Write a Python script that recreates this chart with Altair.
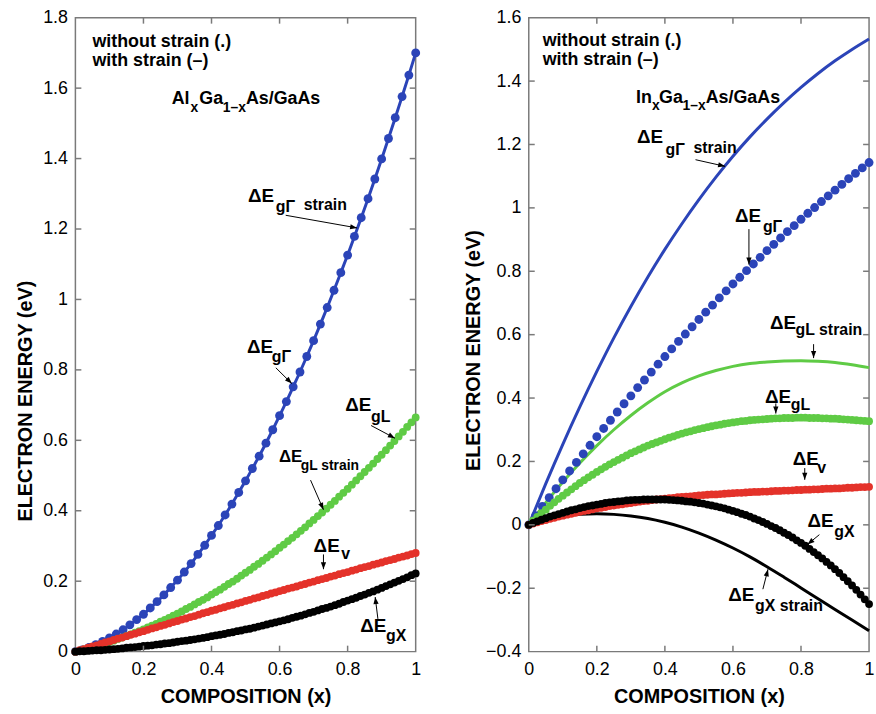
import math
import altair as alt
import pandas as pd

# ---------------------------------------------------------------- data
# composition grids
X_COARSE = [round(0.02 * i, 4) for i in range(51)]
X_FINE = [round(0.0125 * i, 4) for i in range(81)]
X_LINE = [round(0.05 * i, 2) for i in range(21)]

X_TICKS = [0, 0.2, 0.4, 0.6, 0.8, 1]
Y_TICKS_AL = [0, 0.2, 0.4, 0.6, 0.8, 1, 1.2, 1.4, 1.6, 1.8]
Y_TICKS_IN = [-0.4, -0.2, 0, 0.2, 0.4, 0.6, 0.8, 1, 1.2, 1.4, 1.6]

# AlxGa1-xAs / GaAs  (strained and unstrained curves coincide)
AL_GAMMA = [0, 0.005, 0.012, 0.020, 0.029, 0.039, 0.050, 0.062, 0.076, 0.091,
            0.106, 0.124, 0.142, 0.161, 0.182, 0.203, 0.226, 0.250, 0.276, 0.302,
            0.330, 0.358, 0.388, 0.419, 0.452, 0.485, 0.520, 0.555, 0.592, 0.630,
            0.670, 0.710, 0.752, 0.794, 0.838, 0.883, 0.930, 0.977, 1.026, 1.076,
            1.126, 1.179, 1.232, 1.286, 1.342, 1.399, 1.457, 1.516, 1.576, 1.637,
            1.700]
AL_L = [0, 0.003, 0.006, 0.009, 0.013, 0.016, 0.020, 0.023, 0.027, 0.031, 0.036,
        0.040, 0.044, 0.049, 0.054, 0.058, 0.063, 0.069, 0.074, 0.079, 0.085,
        0.090, 0.096, 0.102, 0.108, 0.114, 0.121, 0.127, 0.134, 0.141, 0.147,
        0.154, 0.162, 0.169, 0.176, 0.184, 0.192, 0.199, 0.207, 0.216, 0.224,
        0.232, 0.241, 0.249, 0.258, 0.267, 0.276, 0.285, 0.295, 0.304, 0.314,
        0.323, 0.333, 0.343, 0.353, 0.364, 0.374, 0.385, 0.395, 0.406, 0.417,
        0.428, 0.440, 0.451, 0.462, 0.474, 0.486, 0.498, 0.510, 0.522, 0.534,
        0.547, 0.559, 0.572, 0.585, 0.598, 0.611, 0.624, 0.638, 0.651, 0.665]
AL_V = [0, 0.004, 0.007, 0.011, 0.015, 0.018, 0.022, 0.026, 0.029, 0.033, 0.037,
        0.040, 0.044, 0.048, 0.051, 0.055, 0.058, 0.062, 0.066, 0.069, 0.073,
        0.076, 0.080, 0.084, 0.087, 0.091, 0.094, 0.098, 0.101, 0.105, 0.109,
        0.112, 0.116, 0.119, 0.123, 0.126, 0.130, 0.133, 0.137, 0.140, 0.144,
        0.147, 0.151, 0.154, 0.158, 0.161, 0.165, 0.168, 0.172, 0.175, 0.179,
        0.182, 0.185, 0.189, 0.192, 0.196, 0.199, 0.203, 0.206, 0.209, 0.213,
        0.216, 0.220, 0.223, 0.226, 0.230, 0.233, 0.237, 0.240, 0.243, 0.247,
        0.250, 0.253, 0.257, 0.260, 0.263, 0.267, 0.270, 0.273, 0.277, 0.280]
AL_X = [0, 0.001, 0.001, 0.002, 0.003, 0.004, 0.004, 0.005, 0.006, 0.007, 0.008,
        0.009, 0.011, 0.012, 0.013, 0.014, 0.016, 0.017, 0.018, 0.020, 0.021,
        0.023, 0.024, 0.026, 0.028, 0.030, 0.031, 0.033, 0.035, 0.037, 0.039,
        0.041, 0.044, 0.046, 0.048, 0.050, 0.053, 0.055, 0.058, 0.060, 0.063,
        0.065, 0.068, 0.071, 0.074, 0.077, 0.080, 0.083, 0.086, 0.089, 0.092,
        0.096, 0.099, 0.102, 0.106, 0.110, 0.113, 0.117, 0.121, 0.124, 0.128,
        0.132, 0.136, 0.141, 0.145, 0.149, 0.153, 0.158, 0.162, 0.167, 0.171,
        0.176, 0.181, 0.186, 0.191, 0.196, 0.201, 0.206, 0.211, 0.217, 0.222]

# InxGa1-xAs / GaAs, without strain (dots)
IN_GAMMA = [0, 0.029, 0.058, 0.086, 0.114, 0.142, 0.170, 0.197, 0.224, 0.251,
            0.278, 0.304, 0.330, 0.356, 0.382, 0.407, 0.433, 0.457, 0.482, 0.507,
            0.531, 0.555, 0.579, 0.602, 0.625, 0.648, 0.671, 0.693, 0.716, 0.738,
            0.760, 0.781, 0.802, 0.823, 0.844, 0.865, 0.885, 0.905, 0.925, 0.944,
            0.964, 0.983, 1.001, 1.020, 1.038, 1.056, 1.074, 1.092, 1.109, 1.126,
            1.143]
IN_L = [0, 0.013, 0.025, 0.037, 0.048, 0.060, 0.071, 0.082, 0.092, 0.102, 0.112,
        0.122, 0.132, 0.141, 0.150, 0.158, 0.167, 0.175, 0.183, 0.191, 0.198,
        0.205, 0.212, 0.219, 0.226, 0.232, 0.238, 0.244, 0.250, 0.255, 0.260,
        0.265, 0.270, 0.275, 0.279, 0.284, 0.288, 0.292, 0.295, 0.299, 0.302,
        0.305, 0.308, 0.311, 0.314, 0.316, 0.319, 0.321, 0.323, 0.325, 0.327,
        0.328, 0.330, 0.331, 0.332, 0.333, 0.334, 0.335, 0.336, 0.336, 0.337,
        0.337, 0.337, 0.338, 0.338, 0.338, 0.337, 0.337, 0.337, 0.336, 0.336,
        0.335, 0.335, 0.334, 0.333, 0.332, 0.331, 0.330, 0.329, 0.328, 0.327]
IN_V = [0, 0.004, 0.008, 0.012, 0.015, 0.019, 0.022, 0.026, 0.029, 0.032, 0.035,
        0.038, 0.041, 0.044, 0.046, 0.049, 0.052, 0.054, 0.056, 0.059, 0.061,
        0.063, 0.065, 0.067, 0.069, 0.071, 0.073, 0.075, 0.076, 0.078, 0.080,
        0.081, 0.083, 0.084, 0.085, 0.087, 0.088, 0.089, 0.090, 0.091, 0.093,
        0.094, 0.095, 0.096, 0.096, 0.097, 0.098, 0.099, 0.100, 0.101, 0.101,
        0.102, 0.103, 0.104, 0.104, 0.105, 0.105, 0.106, 0.107, 0.107, 0.108,
        0.108, 0.109, 0.110, 0.110, 0.111, 0.111, 0.112, 0.112, 0.113, 0.114,
        0.114, 0.115, 0.115, 0.116, 0.117, 0.117, 0.118, 0.119, 0.119, 0.120]
IN_X = [0, 0.006, 0.011, 0.016, 0.021, 0.026, 0.030, 0.034, 0.038, 0.042, 0.046,
        0.049, 0.053, 0.056, 0.059, 0.061, 0.064, 0.066, 0.069, 0.071, 0.072,
        0.074, 0.075, 0.077, 0.078, 0.079, 0.079, 0.080, 0.080, 0.080, 0.080,
        0.080, 0.080, 0.079, 0.078, 0.077, 0.076, 0.074, 0.073, 0.071, 0.069,
        0.067, 0.064, 0.061, 0.058, 0.055, 0.052, 0.048, 0.044, 0.040, 0.035,
        0.031, 0.026, 0.020, 0.015, 0.009, 0.003, -0.004, -0.010, -0.017, -0.025,
        -0.032, -0.040, -0.049, -0.057, -0.066, -0.076, -0.086, -0.096, -0.106, -0.117,
        -0.128, -0.140, -0.152, -0.165, -0.178, -0.191, -0.205, -0.220, -0.235, -0.250]

# InxGa1-xAs / GaAs, with strain (lines)
IN_GAMMA_STRAIN = [0, 0.13, 0.254, 0.372, 0.484, 0.59, 0.689, 0.782, 0.869, 0.95,
                   1.026, 1.097, 1.163, 1.224, 1.28, 1.332, 1.38, 1.424, 1.464, 1.50, 1.533]
IN_L_STRAIN = [0, 0.07, 0.135, 0.195, 0.25, 0.30, 0.345, 0.385, 0.42, 0.448,
               0.47, 0.487, 0.50, 0.509, 0.514, 0.517, 0.518, 0.516, 0.512, 0.505, 0.496]
IN_X_STRAIN = [0, 0.016, 0.027, 0.033, 0.035, 0.033, 0.028, 0.020, 0.008, -0.007,
               -0.026, -0.048, -0.073, -0.101, -0.132, -0.165, -0.199, -0.233, -0.267, -0.300, -0.334]

# ------------------------------------------------------------- styling
BLUE = "#2b44b8"
GREEN = "#5fcb45"
RED = "#e4322a"
BLACK = "#000000"
FRAME = "#7a7a7a"
FONT = "Liberation Sans"
W, H = 343, 639
ARROW_HEAD = "M0,0L-0.5,1.35L0.5,1.35Z"
BIG_DOT, SMALL_DOT = 80, 62

# annotation text: (x, y, text, font size)
AL_TEXT = [
    (0.050, 1.718, "without strain (.)", 18),
    (0.050, 1.662, "with strain (–)", 18),
    (0.283, 1.555, "Al", 18), (0.338, 1.532, "x", 14),
    (0.364, 1.555, "Ga", 18), (0.433, 1.532, "1–x", 14),
    (0.501, 1.555, "As/GaAs", 18),
    (0.507, 1.276, "ΔE", 19), (0.589, 1.248, "gΓ", 16), (0.671, 1.254, "strain", 16),
    (0.504, 0.848, "ΔE", 19), (0.577, 0.822, "gΓ", 16),
    (0.793, 0.684, "ΔE", 19), (0.869, 0.651, "gL", 16),
    (0.598, 0.538, "ΔE", 17), (0.662, 0.515, "gL strain", 14),
    (0.700, 0.284, "ΔE", 19), (0.781, 0.262, "v", 16),
    (0.837, 0.056, "ΔE", 19), (0.913, 0.031, "gX", 16),
]
# arrows: (x from, y from, x to, y to)
AL_ARROWS = [
    (0.618, 1.239, 0.828, 1.203),
    (0.589, 0.806, 0.636, 0.761),
    (0.869, 0.642, 0.939, 0.606),
    (0.691, 0.487, 0.729, 0.403),
    (0.729, 0.276, 0.729, 0.234),
    (0.889, 0.093, 0.881, 0.155),
]

IN_TEXT = [
    (0.041, 1.512, "without strain (.)", 18),
    (0.041, 1.450, "with strain (–)", 18),
    (0.315, 1.331, "In", 18), (0.362, 1.309, "x", 14),
    (0.383, 1.331, "Ga", 18), (0.452, 1.309, "1–x", 14),
    (0.520, 1.331, "As/GaAs", 18),
    (0.318, 1.206, "ΔE", 19), (0.402, 1.168, "gΓ", 16), (0.484, 1.174, "strain", 16),
    (0.606, 0.955, "ΔE", 19), (0.688, 0.924, "gΓ", 16),
    (0.709, 0.617, "ΔE", 19), (0.784, 0.598, "gL strain", 16),
    (0.694, 0.383, "ΔE", 19), (0.770, 0.361, "gL", 16),
    (0.776, 0.188, "ΔE", 19), (0.848, 0.163, "v", 16),
    (0.819, -0.006, "ΔE", 19), (0.898, -0.037, "gX", 16),
    (0.586, -0.240, "ΔE", 19), (0.665, -0.272, "gX strain", 16),
]
IN_ARROWS = [
    (0.490, 1.152, 0.577, 1.131),
    (0.647, 0.933, 0.647, 0.821),
    (0.837, 0.570, 0.837, 0.526),
    (0.726, 0.383, 0.726, 0.351),
    (0.811, 0.179, 0.811, 0.142),
    (0.854, -0.031, 0.819, -0.062),
    (0.688, -0.203, 0.703, -0.140),
]


def panel(dots, lines, y_domain, y_ticks, texts, arrows, title_x, title_y):
    ky = H / (y_domain[1] - y_domain[0])
    x_enc = alt.X(
        "x:Q",
        scale=alt.Scale(domain=[0, 1], nice=False, zero=False),
        axis=alt.Axis(values=X_TICKS, format="~g", title="COMPOSITION (x)",
                      tickSize=0, domain=False, grid=False, labelPadding=9,
                      labelFlush=False, titlePadding=8),
    )
    y_enc = alt.Y(
        "y:Q",
        scale=alt.Scale(domain=y_domain, nice=False, zero=False),
        axis=alt.Axis(values=y_ticks, format="~g", title="ELECTRON ENERGY (eV)",
                      tickSize=0, domain=False, grid=False, labelPadding=8,
                      labelFlush=False, titleX=title_x, titleY=title_y),
    )

    layers = []
    # strained curves as solid lines
    for xs, ys, color in lines:
        df = pd.DataFrame({"x": xs, "y": ys})
        layers.append(
            alt.Chart(df).mark_line(color=color, strokeWidth=3, interpolate="monotone")
            .encode(x=x_enc, y=y_enc)
        )
    # unstrained curves as dots
    for xs, ys, color, size in dots:
        df = pd.DataFrame({"x": xs, "y": ys})
        layers.append(
            alt.Chart(df).mark_circle(color=color, size=size, opacity=1)
            .encode(x=x_enc, y=y_enc)
        )

    # inward ticks on all four sides
    xt = pd.DataFrame({"x": X_TICKS[1:-1]})
    yt = pd.DataFrame({"y": y_ticks[1:-1]})
    tick = dict(color=FRAME, strokeWidth=1.5)
    layers += [
        alt.Chart(xt).mark_rule(**tick).encode(x=x_enc, y=alt.value(H), y2=alt.value(H - 6)),
        alt.Chart(xt).mark_rule(**tick).encode(x=x_enc, y=alt.value(0), y2=alt.value(6)),
        alt.Chart(yt).mark_rule(**tick).encode(y=y_enc, x=alt.value(0), x2=alt.value(6)),
        alt.Chart(yt).mark_rule(**tick).encode(y=y_enc, x=alt.value(W), x2=alt.value(W - 6)),
    ]

    # labels
    tdf = pd.DataFrame(texts, columns=["x", "y", "text", "fs"])
    layers.append(
        alt.Chart(tdf).mark_text(align="left", baseline="alphabetic", fontWeight="bold",
                                 font=FONT, color=BLACK)
        .encode(x=x_enc, y=y_enc, text="text:N",
                size=alt.Size("fs:Q", scale=None, legend=None))
    )

    # arrows
    adf = pd.DataFrame(arrows, columns=["x", "y", "x2", "y2"])
    adf["ang"] = [
        math.degrees(math.atan2((b2 - b1) * W, (c2 - c1) * ky)) % 360
        for b1, c1, b2, c2 in arrows
    ]
    layers.append(
        alt.Chart(adf).mark_rule(color=BLACK, strokeWidth=1)
        .encode(x=x_enc, y=y_enc, x2="x2:Q", y2="y2:Q")
    )
    hdf = pd.DataFrame({"x": adf["x2"], "y": adf["y2"], "ang": adf["ang"]})
    layers.append(
        alt.Chart(hdf).mark_point(shape=ARROW_HEAD, filled=True, size=110, color=BLACK,
                                  opacity=1, strokeWidth=0)
        .encode(x=x_enc, y=y_enc, angle=alt.Angle("ang:Q", scale=None))
    )

    return alt.layer(*layers).properties(width=W, height=H)


left = panel(
    dots=[
        (X_COARSE, AL_GAMMA, BLUE, BIG_DOT),
        (X_FINE, AL_L, GREEN, SMALL_DOT),
        (X_FINE, AL_V, RED, SMALL_DOT),
        (X_FINE, AL_X, BLACK, SMALL_DOT),
    ],
    lines=[
        (X_COARSE, AL_GAMMA, BLUE),
        (X_FINE, AL_L, GREEN),
        (X_FINE, AL_V, RED),
        (X_FINE, AL_X, BLACK),
    ],
    y_domain=[0, 1.8],
    y_ticks=Y_TICKS_AL,
    texts=AL_TEXT,
    arrows=AL_ARROWS,
    title_x=-40,
    title_y=386,
)

right = panel(
    dots=[
        (X_COARSE, IN_GAMMA, BLUE, BIG_DOT),
        (X_FINE, IN_L, GREEN, SMALL_DOT),
        (X_FINE, IN_V, RED, SMALL_DOT),
        (X_FINE, IN_X, BLACK, SMALL_DOT),
    ],
    lines=[
        (X_LINE, IN_GAMMA_STRAIN, BLUE),
        (X_LINE, IN_L_STRAIN, GREEN),
        (X_LINE, IN_X_STRAIN, BLACK),
    ],
    y_domain=[-0.4, 1.6],
    y_ticks=Y_TICKS_IN,
    texts=IN_TEXT,
    arrows=IN_ARROWS,
    title_x=-46,
    title_y=335,
)

chart = (
    alt.hconcat(left, right, spacing=40)
    .properties(padding={"left": 15, "top": 5, "right": 0, "bottom": 0})
    .configure_view(stroke=FRAME, strokeWidth=1.5)
    .configure_axis(labelFont=FONT, labelFontSize=18, labelColor=BLACK,
                    titleFont=FONT, titleFontSize=20, titleFontWeight="bold",
                    titleColor=BLACK)
)

chart.save("out.html", embed_options={"renderer": "svg", "actions": False})
